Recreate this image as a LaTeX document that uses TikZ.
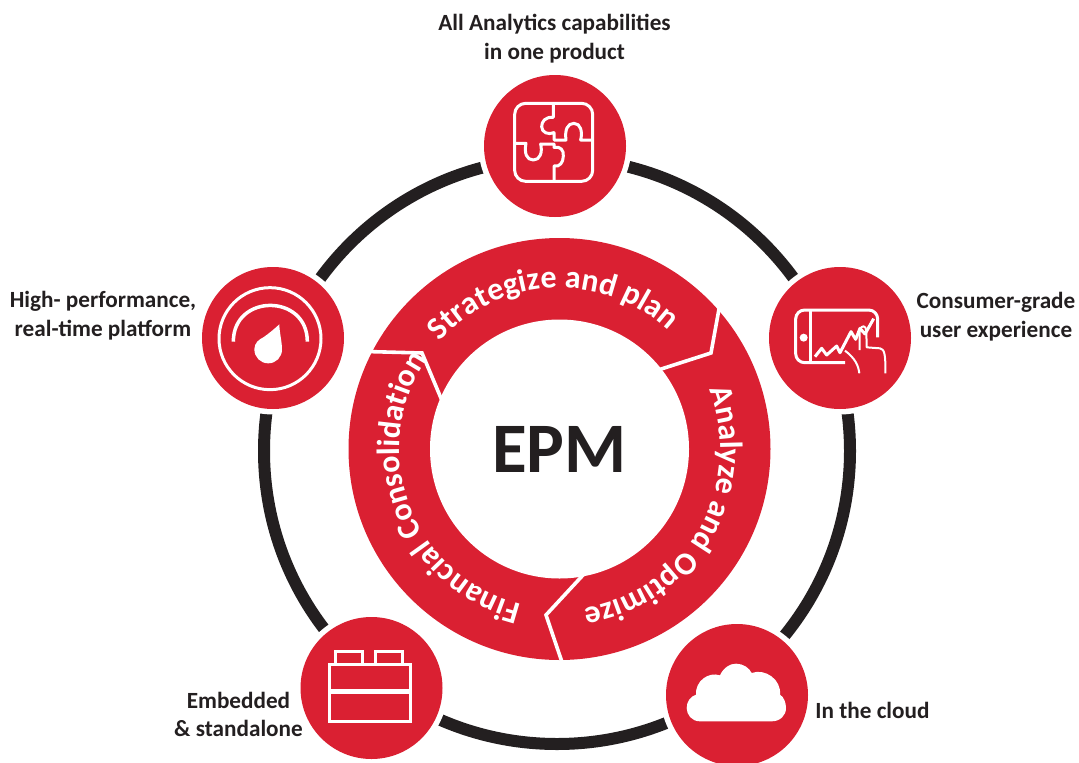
\documentclass[tikz,border=0pt]{standalone}
\usepackage{fontspec}
\setmainfont{Carlito}[BoldFont={Carlito Bold}]
\usetikzlibrary{decorations.text}
\definecolor{epmred}{HTML}{DA2032}
\definecolor{epmblack}{HTML}{231F20}
\tikzset{
  disc/.style={circle,fill=epmred,inner sep=0pt,outer sep=0pt,minimum size=142pt},
  caption/.style={align=center,text=epmblack,inner sep=0pt,font=\fontsize{23.2}{28.7}\selectfont\bfseries},
  icon/.style={draw=white,line width=3pt,line join=round,line cap=butt,fill=none},
  gapline/.style={draw=white,line width=3.6pt,line join=miter},
  ringtext/.style={decorate,decoration={text along path,text align=center,text={#1}}}
}
\begin{document}
\begin{tikzpicture}[x=1pt,y=-1pt]
\useasboundingbox (0,0) rectangle (1079,763);
\coordinate (ringc) at (557,451);
\coordinate (hubc) at (559.5,449);
\coordinate (ca) at (555,146);
\coordinate (cb) at (840,338);
\coordinate (cc) at (737,695);
\coordinate (cd) at (371.5,688);
\coordinate (ce) at (273,338);
% black ring with halos
\draw[epmblack,line width=12pt] (ringc) circle (293);
\foreach \c in {ca,cb,cc,cd,ce}{\fill[white] (\c) circle (76.5);}
% discs
\node[disc] (na) at (ca) {};
\node[disc] (nb) at (cb) {};
\node[disc] (nc) at (cc) {};
\node[disc] (nd) at (cd) {};
\node[disc] (ne) at (ce) {};
% hub ring
\fill[epmred] (hubc) circle (211);
\node[circle,fill=white,minimum size=259pt,inner sep=0pt,outer sep=0pt,text=epmblack,font=\fontsize{71}{71}\selectfont\bfseries] (hub) at (hubc) {EPM};
% separators
\draw[gapline] (721,298) -- (711,353) -- (655,371);
\draw[gapline] (366,351.5) -- (422,353) -- (443,403);
\draw[gapline] (584,574) -- (546,615) -- (563,665);
% ring text
\begin{scope}[shift={(559.5,449)},y=1pt]
\path[ringtext={|\fontsize{32}{32}\selectfont\bfseries\color{white}|Strategize and plan}]
  (137.6:161) arc[start angle=137.6,end angle=47.6,radius=161];
\path[ringtext={|\fontsize{32}{32}\selectfont\bfseries\color{white}|Analyze and Optimize}]
  (20:161) arc[start angle=20,end angle=-80,radius=161];
\path[ringtext={|\fontsize{32}{32}\selectfont\bfseries\color{white}|Financial Consolidation}]
  (261:160) arc[start angle=261,end angle=141,radius=160];
\end{scope}
% puzzle icon
\begin{scope}[shift={(480,70)},x=0.33333pt,y=-0.33333pt]
\draw[icon,rounded corners=11pt] (104,100) rectangle (338,334);
\draw[icon] (220,100) -- (220,142) .. controls (195,140) and (185,155) .. (185,170)
  .. controls (185,188) and (205,195) .. (222,188) -- (222,210) -- (258,210)
  .. controls (254,180) and (262,160) .. (282,160) .. controls (302,160) and (308,185) .. (302,210) -- (338,210);
\draw[icon] (104,220) -- (138,220) .. controls (132,250) and (140,270) .. (160,270)
  .. controls (180,270) and (188,248) .. (182,222) -- (222,222) -- (222,232)
  .. controls (240,228) and (252,240) .. (250,258) .. controls (250,278) and (238,292) .. (222,288) -- (222,334);
\end{scope}
% tablet icon
\begin{scope}[shift={(765,260)},x=0.33333pt,y=-0.33333pt]
\draw[icon,rounded corners=9pt] (338,232) -- (338,150) -- (92,150) -- (92,308) -- (240,308);
\draw[icon] (137,150) -- (137,308);
\fill[white] (116,233) circle (12);
\draw[icon] (150,290) -- (170,265) -- (185,285) -- (215,258) -- (225,278) -- (258,215) -- (272,238) -- (285,205) -- (300,222) -- (326,176);
\draw[icon,line width=2pt] (283,340) .. controls (280,315) and (270,295) .. (240,272);
\draw[icon,line width=2pt] (284,270) -- (284,210) .. controls (290,195) and (302,195) .. (304,212) -- (305,262) -- (345,265) .. controls (358,268) and (362,280) .. (361,340);
\end{scope}
% gauge icon
\begin{scope}[shift={(200,260)},x=0.33333pt,y=-0.33333pt]
\draw[icon] (210,236) circle (153);
\draw[icon,line width=3.5pt] (100,245) .. controls (100,100) and (322,100) .. (322,245);
\fill[white] (238,193) .. controls (238,215) and (246,245) .. (246,268)
  .. controls (246,292) and (228,310) .. (205,310)
  .. controls (182,310) and (163,292) .. (163,268)
  .. controls (163,248) and (178,238) .. (190,232) .. controls (205,222) and (225,205) .. (238,193) -- cycle;
\end{scope}
% lego icon
\begin{scope}[shift={(295,613)},x=0.33333pt,y=-0.33333pt]
\draw[icon,line width=3.3pt,line join=miter] (103,155) rectangle (347,325);
\draw[icon,line width=4.5pt] (103,235) -- (347,235);
\draw[icon,line width=3.3pt,line join=miter] (122,155) -- (122,116) -- (202,116) -- (202,155);
\draw[icon,line width=3.3pt,line join=miter] (242,155) -- (242,116) -- (322,116) -- (322,155);
\end{scope}
% cloud icon
\begin{scope}[shift={(660,613)},x=0.33333pt,y=-0.33333pt]
\fill[white] (120,325) .. controls (95,325) and (80,305) .. (80,285)
  .. controls (80,265) and (92,250) .. (108,245)
  .. controls (105,205) and (145,175) .. (180,187)
  .. controls (190,165) and (208,152) .. (228,152)
  .. controls (250,152) and (268,165) .. (275,180)
  .. controls (315,165) and (365,200) .. (360,245)
  .. controls (372,252) and (378,270) .. (378,285)
  .. controls (378,308) and (360,325) .. (335,325) -- cycle;
\end{scope}
% captions
\node[caption] (la) at (554.5,38.5) {All Analytics capabilities\\in one product};
\node[caption] (lb) at (996,317) {Consumer-grade\\user experience};
\node[caption] (lc) at (872.5,710.5) {In the cloud};
\node[caption] (ld) at (238.5,714.5) {Embedded\\\& standalone};
\node[caption] (le) at (103,315.5) {High- performance,\\real-time platform};
\end{tikzpicture}
\end{document}
